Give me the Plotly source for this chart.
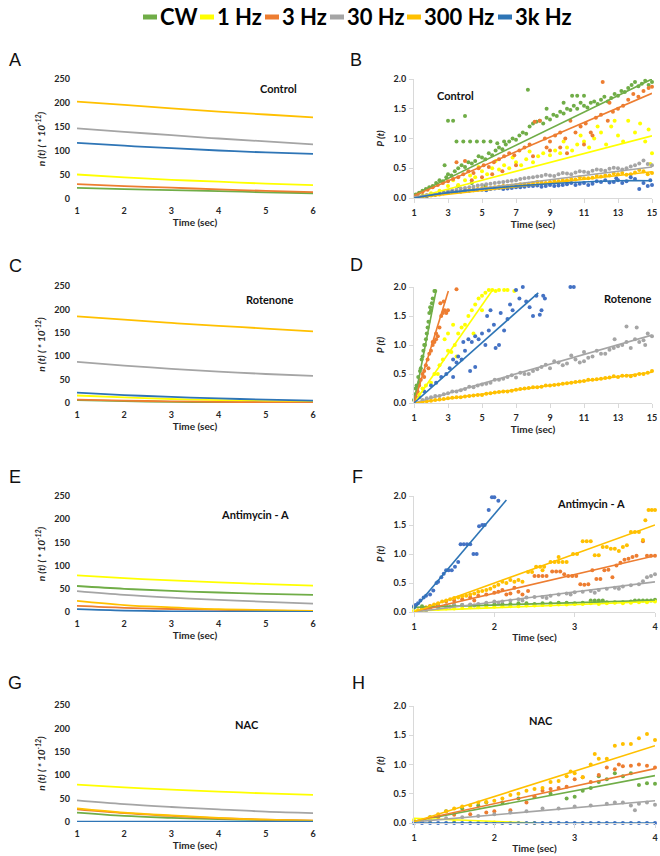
import plotly.graph_objects as go

W, H = 660, 856

# ---------------- series / colours ----------------
SERIES = ["CW", "1 Hz", "3 Hz", "30 Hz", "300 Hz", "3k Hz"]
COLORS = ["#70AD47", "#FFFF00", "#ED7D31", "#A5A5A5", "#FFC000", "#4472C4"]
LINE_COLORS = ["#70AD47", "#FFFF00", "#ED7D31", "#A5A5A5", "#FFC000", "#2E75B6"]

# ---------------- n(t) panels (A, C, E, G) ----------------
T = [1, 2, 3, 4, 5, 6]
# order: CW, 1 Hz, 3 Hz, 30 Hz, 300 Hz, 3k Hz
A_N = [
    [23, 20.5, 18.5, 16.5, 14, 12],
    [51, 45, 40, 36, 32, 29],
    [31, 27, 23.5, 20, 17, 14.5],
    [147, 140, 133, 126, 120, 114],
    [203, 196, 189, 182, 176, 170],
    [117, 111, 106, 101, 97, 94],
]
C_N = [
    [6, 4, 2.5, 1.5, 1, 0.5],
    [16, 12, 8.5, 6, 4, 2.5],
    [7, 5, 3.5, 2.5, 1.5, 1],
    [88, 80, 73, 67, 62, 58],
    [185, 178, 171, 165, 159, 153],
    [22, 17, 13, 10, 7, 5],
]
E_N = [
    [56, 50, 45.5, 42, 39, 37],
    [79, 73, 68, 64, 60, 57],
    [13, 9, 6.5, 4.5, 3, 2],
    [45, 37, 31, 26, 22, 18],
    [24, 15, 10, 6, 4, 2.5],
    [6, 3, 1.5, 1, 0.5, 0.3],
]
G_N = [
    [20, 13, 9, 6, 4, 2.5],
    [80, 74, 69, 65, 61, 58],
    [27, 19, 13, 8, 5, 3],
    [46, 38, 32, 27, 22, 19],
    [29, 20, 14, 9, 5, 3],
    [0.5, 0.5, 0.5, 0.5, 0.5, 0.5],
]

# ---------------- P(t) panel B (Control) ----------------
B_CW = [(1.1,0.06),(1.3,0.09),(1.5,0.12),(1.7,0.15),(1.9,0.18),(2.1,0.2),(2.3,0.25),(2.5,0.3),(2.7,0.28),(2.9,0.35),
        (3.0,0.4),(3.2,0.38),(3.4,0.45),(3.6,0.5),(3.8,0.55),(4.0,0.52),(4.2,0.6),(4.4,0.58),(4.6,0.62),(4.8,0.7),
        (5.0,0.68),(5.2,0.65),(5.4,0.75),(5.6,0.72),(5.8,0.8),(6.0,0.85),(6.2,0.82),(6.4,0.9),(6.6,0.95),(6.8,1.0),
        (7.0,0.98),(7.2,1.05),(7.4,1.1),(7.6,1.08),(7.8,1.2),(8.0,1.25),(8.2,1.28),(8.4,1.3),(8.6,1.25),(8.8,1.35),
        (9.0,1.32),(9.2,1.4),(9.4,1.38),(9.6,1.45),(9.8,1.42),(10.0,1.5),(10.2,1.48),(10.4,1.55),(10.6,1.5),(10.8,1.6),
        (11.0,1.55),(11.2,1.52),(11.4,1.6),(11.6,1.62),(11.8,1.58),(12.0,1.65),(12.2,1.7),(12.4,1.62),(12.6,1.68),(12.8,1.75),
        (13.0,1.72),(13.2,1.8),(13.4,1.78),(13.6,1.85),(13.8,1.9),(14.0,1.95),(14.2,1.88),(14.4,1.92),(14.6,1.97),(14.8,1.9),(15.0,1.95),
        (3.0,1.3),(3.3,1.3),(4.0,1.38),(7.7,1.82),(3.5,0.95),(3.9,0.95),(4.3,0.95),(4.7,0.95),(5.1,0.95),(5.5,0.95),
        (5.9,0.92),(6.3,0.95),(2.8,0.55),(3.6,0.2),(4.4,0.25),(5.2,0.2),(10.3,1.72),(10.6,1.72),(11.0,1.72),(9.8,1.6),(8.8,1.5)]
B_1HZ = [(1.5,0.04),(2.0,0.08),(2.5,0.12),(3.0,0.2),(3.3,0.3),(3.6,0.22),(4.0,0.3),(4.3,0.38),(4.6,0.35),(5.0,0.45),
         (5.3,0.4),(5.6,0.5),(6.0,0.48),(6.3,0.55),(6.6,0.5),(7.0,0.6),(7.3,0.55),(7.6,0.65),(8.0,0.6),(8.3,0.7),
         (8.6,0.75),(9.0,0.72),(9.3,0.8),(9.6,0.75),(10.0,0.85),(10.3,0.8),(10.6,0.9),(11.0,0.95),(11.3,0.85),(11.6,1.0),
         (12.0,1.1),(12.3,0.9),(12.6,1.2),(13.0,1.05),(13.3,0.95),(13.6,1.3),(14.0,1.1),(14.3,1.25),(14.6,0.95),(14.8,1.15),
         (15.0,0.75),(14.9,0.57),(12.8,1.3),(11.8,1.2),(10.8,1.05),(9.8,0.95),(7.8,0.78),(6.8,0.68),(5.8,0.62),(4.8,0.52)]
B_3HZ = [(1.2,0.06),(1.5,0.1),(1.8,0.14),(2.1,0.18),(2.4,0.22),(2.7,0.25),(3.0,0.28),(3.3,0.32),(3.6,0.35),(3.9,0.4),
         (4.2,0.45),(4.5,0.42),(4.8,0.5),(5.1,0.55),(5.4,0.52),(5.7,0.6),(6.0,0.65),(6.3,0.7),(6.6,0.75),(6.9,0.72),
         (7.2,0.8),(7.5,0.85),(7.8,0.9),(8.1,1.28),(8.4,1.3),(8.7,1.0),(9.0,0.95),(9.3,1.05),(9.6,1.1),(9.9,1.0),
         (10.2,1.3),(10.5,1.1),(10.8,1.2),(11.1,1.25),(11.4,1.1),(11.7,1.35),(12.0,1.4),(12.1,1.95),(12.4,1.3),(12.7,1.45),
         (13.0,1.5),(13.3,1.55),(13.6,1.65),(13.9,1.75),(14.2,1.7),(14.5,1.8),(14.8,1.85),(15.0,1.87),
         (4.4,0.3),(5.0,0.35),(5.6,0.4),(6.2,0.45),(7.0,0.55),(8.0,0.7),(9.0,0.8),(9.6,0.85),(10.0,0.75),(11.0,0.9),
         (11.5,1.05),(3.5,0.6),(4.0,0.62),(8.8,0.85),(12.5,1.6)]
B_30HZ = [(1.5,0.03),(2.0,0.06),(2.5,0.08),(3.0,0.12),(3.5,0.14),(4.0,0.17),(4.5,0.19),(5.0,0.22),(5.5,0.24),(6.0,0.26),
          (6.5,0.28),(7.0,0.3),(7.5,0.33),(8.0,0.35),(8.5,0.37),(9.0,0.38),(9.5,0.4),(10.0,0.41),(10.5,0.43),(11.0,0.44),
          (11.5,0.46),(12.0,0.47),(12.5,0.49),(13.0,0.5),(13.5,0.5),(14.0,0.55),(14.5,0.63),(15.0,0.55),
          (1.75,0.05),(2.25,0.07),(2.75,0.1),(3.25,0.13),(3.75,0.16),(4.25,0.18),(4.75,0.21),(5.25,0.23),(5.75,0.25),(6.25,0.27),
          (6.75,0.29),(7.25,0.32),(7.75,0.34),(8.25,0.36),(8.75,0.39),(9.25,0.37),(9.75,0.42),(10.25,0.4),(10.75,0.45),(11.25,0.43),
          (11.75,0.48),(12.25,0.46),(12.75,0.51),(13.25,0.48),(13.75,0.53),(14.25,0.58),(14.75,0.57)]
B_300HZ = [(1.5,0.02),(2.0,0.04),(2.5,0.06),(3.0,0.09),(3.5,0.1),(4.0,0.12),(4.5,0.14),(5.0,0.16),(5.5,0.17),(6.0,0.19),
           (6.5,0.2),(7.0,0.22),(7.5,0.23),(8.0,0.25),(8.5,0.26),(9.0,0.27),(9.5,0.28),(10.0,0.3),(10.5,0.31),(11.0,0.33),
           (11.5,0.34),(12.0,0.36),(12.5,0.38),(13.0,0.4),(13.5,0.39),(14.0,0.43),(14.5,0.45),(15.0,0.42),
           (1.75,0.03),(2.25,0.05),(2.75,0.08),(3.25,0.1),(3.75,0.11),(4.25,0.13),(4.75,0.15),(5.25,0.17),(5.75,0.18),(6.25,0.2),
           (6.75,0.21),(7.25,0.23),(7.75,0.24),(8.25,0.27),(8.75,0.25),(9.25,0.29),(9.75,0.3),(10.25,0.32),(10.75,0.35),(11.25,0.33),
           (11.75,0.37),(12.25,0.38),(12.75,0.41),(13.25,0.42),(13.75,0.4),(14.25,0.47),(14.75,0.4)]
B_3KHZ = [(1.5,0.02),(2.0,0.05),(2.5,0.07),(3.0,0.09),(3.5,0.1),(4.0,0.12),(4.5,0.13),(5.0,0.14),(5.5,0.15),(6.0,0.17),
          (6.5,0.16),(7.0,0.18),(7.5,0.19),(8.0,0.2),(8.5,0.19),(9.0,0.22),(9.5,0.21),(10.0,0.23),(10.5,0.22),(11.0,0.25),
          (11.5,0.24),(12.0,0.27),(12.5,0.26),(13.0,0.3),(13.5,0.28),(14.0,0.32),(14.5,0.25),(15.0,0.22),
          (1.75,0.03),(2.25,0.06),(2.75,0.08),(3.25,0.1),(3.75,0.11),(4.25,0.12),(4.75,0.14),(5.25,0.13),(5.75,0.16),(6.25,0.15),
          (6.75,0.17),(7.25,0.18),(7.75,0.2),(8.25,0.21),(8.75,0.2),(9.25,0.2),(9.75,0.22),(10.25,0.25),(10.75,0.24),(11.25,0.22),
          (11.75,0.28),(12.25,0.3),(12.75,0.27),(13.25,0.25),(13.75,0.35),(14.25,0.15),(14.75,0.2),(14.9,0.3),(12.9,0.33)]
B_FIT = [
    [(1, 0.05), (15, 2.0)],
    [(1, 0.0), (15, 1.045)],
    [(1, 0.04), (15, 1.76)],
    [(1, 0.02), (15, 0.52)],
    [(1, 0.0), (15, 0.44)],
    [(1, 0.0), (3, 0.09), (5, 0.15), (7, 0.2), (9, 0.24), (11, 0.27), (13, 0.29), (15, 0.29)],
]

# ---------------- P(t) panel D (Rotenone) ----------------
D_CW = [(1.0,0.05),(1.05,0.15),(1.1,0.25),(1.15,0.3),(1.2,0.2),(1.25,0.45),(1.3,0.35),(1.35,0.55),(1.4,0.6),(1.45,0.75),
        (1.5,0.8),(1.55,0.9),(1.6,1.0),(1.65,1.0),(1.7,1.1),(1.75,1.2),(1.8,1.3),(1.85,1.4),(1.9,1.55),(1.95,1.65),
        (2.0,1.6),(2.05,1.72),(2.1,1.8),(2.2,1.93),(2.25,1.93)]
D_1HZ = [(1.3,0.15),(1.5,0.25),(1.7,0.3),(2.0,0.35),(2.2,0.5),(2.4,0.5),(2.5,0.65),(2.7,0.75),(2.8,1.1),(3.0,0.9),
         (3.0,1.2),(3.2,0.88),(3.3,1.35),(3.4,1.0),(3.5,0.8),(3.6,1.2),(3.8,1.3),(4.0,1.35),(4.2,1.5),(4.4,1.6),
         (4.5,1.2),(4.6,1.7),(4.8,1.8),(5.0,1.85),(5.0,1.6),(5.2,1.9),(5.4,1.95),(5.6,1.95),(5.8,1.93),(6.0,1.95),
         (6.3,1.95),(6.5,1.95),(6.9,1.93)]
D_3HZ = [(1.1,0.1),(1.2,0.2),(1.3,0.3),(1.4,0.4),(1.5,0.5),(1.6,0.55),(1.6,0.45),(1.7,0.65),(1.8,0.75),(1.85,0.6),
         (1.9,0.85),(2.0,0.9),(2.1,1.0),(2.1,1.05),(2.2,1.05),(2.3,1.2),(2.3,1.1),(2.4,1.15),(2.5,1.3),(2.55,1.72),
         (2.6,1.5),(2.7,1.55),(2.75,1.75),(2.8,1.6),(2.9,1.55),(3.0,1.6),(3.5,1.96)]
D_30HZ = [(1.5,0.05),(2.0,0.1),(2.5,0.12),(3.0,0.17),(3.5,0.2),(4.0,0.24),(4.5,0.27),(5.0,0.32),(5.5,0.35),(6.0,0.4),
          (6.5,0.45),(7.0,0.44),(7.5,0.5),(8.0,0.55),(8.5,0.62),(9.0,0.6),(9.5,0.7),(10.0,0.68),(10.5,0.75),(11.0,0.72),
          (11.5,0.8),(12.0,0.85),(12.5,0.92),(13.0,0.98),(13.5,1.05),(14.0,1.1),(14.5,1.08),(15.0,1.15),
          (1.75,0.08),(2.25,0.12),(2.75,0.15),(3.25,0.2),(3.75,0.22),(4.25,0.28),(4.75,0.3),(5.25,0.33),(5.75,0.4),(6.25,0.42),
          (6.75,0.48),(7.25,0.52),(7.75,0.5),(8.25,0.58),(8.75,0.66),(9.25,0.72),(9.75,0.65),(10.25,0.82),(10.75,0.7),(11.25,0.78),
          (11.75,0.9),(12.25,0.85),(12.75,0.95),(13.25,1.0),(13.75,0.95),(14.25,1.05),(14.75,1.2),(13.5,1.32),(14.1,1.3),(14.6,1.0),
          (12.8,1.1),(11.0,0.88)]
D_300HZ = [(1.5,0.02),(2.0,0.04),(2.5,0.06),(3.0,0.08),(3.5,0.1),(4.0,0.11),(4.5,0.13),(5.0,0.14),(5.5,0.17),(6.0,0.19),
           (6.5,0.2),(7.0,0.23),(7.5,0.25),(8.0,0.27),(8.5,0.28),(9.0,0.3),(9.5,0.32),(10.0,0.34),(10.5,0.36),(11.0,0.38),
           (11.5,0.4),(12.0,0.42),(12.5,0.44),(13.0,0.45),(13.5,0.47),(14.0,0.48),(14.5,0.5),(15.0,0.55),
           (1.75,0.03),(2.25,0.05),(2.75,0.07),(3.25,0.09),(3.75,0.1),(4.25,0.12),(4.75,0.14),(5.25,0.16),(5.75,0.18),(6.25,0.2),
           (6.75,0.21),(7.25,0.24),(7.75,0.26),(8.25,0.27),(8.75,0.3),(9.25,0.31),(9.75,0.33),(10.25,0.35),(10.75,0.37),(11.25,0.4),
           (11.75,0.41),(12.25,0.43),(12.75,0.46),(13.25,0.47),(13.75,0.46),(14.25,0.5),(14.75,0.52)]
D_3KHZ = [(1.3,0.1),(1.6,0.2),(2.0,0.3),(2.3,0.35),(2.6,0.45),(2.9,0.5),(3.1,0.6),(3.3,0.75),(3.5,0.7),(3.6,0.8),
          (3.8,0.75),(4.0,0.9),(4.2,1.1),(4.4,1.05),(4.6,1.15),(4.8,1.1),(5.0,1.2),(5.2,1.0),(5.4,1.25),(5.5,1.6),
          (5.7,1.35),(5.8,0.95),(6.0,1.0),(6.1,1.55),(6.3,1.25),(6.5,1.45),(6.65,1.7),(6.8,1.6),(7.0,1.95),(7.2,1.8),
          (7.4,2.0),(7.6,1.75),(7.8,1.65),(8.0,1.5),(8.2,1.85),(8.4,1.52),(8.6,1.85),(8.7,1.8),(8.5,1.6),(10.2,2.0),
          (10.4,2.0),(4.3,0.55),(3.3,0.45),(4.6,0.62),(3.9,1.05),(5.3,1.5)]
D_FIT = [
    [(1, 0.0), (2.3, 1.94)],
    [(1, 0.0), (5.67, 1.97)],
    [(1, 0.0), (3.02, 1.93)],
    [(1, 0.0), (15, 1.17)],
    [(1, 0.0), (15, 0.53)],
    [(1, 0.0), (8.31, 1.9)],
]

# ---------------- P(t) panel F (Antimycin - A) ----------------
F_CW = [(1.0,0.08),(1.1,0.1),(1.2,0.1),(1.3,0.11),(1.4,0.11),(1.5,0.12),(1.6,0.12),(1.7,0.12),(1.8,0.12),(1.9,0.13),
        (2.0,0.13),(2.1,0.14),(2.2,0.14),(2.3,0.15),(2.4,0.15),(2.5,0.14),(2.6,0.15),(2.7,0.15),(2.8,0.16),(2.9,0.16),
        (3.0,0.15),(3.1,0.16),(3.2,0.2),(3.25,0.2),(3.3,0.2),(3.35,0.2),(3.4,0.17),(3.5,0.17),(3.6,0.17),(3.7,0.18),
        (3.75,0.2),(3.8,0.2),(3.85,0.2),(3.9,0.2),(3.95,0.2),(4.0,0.21)]
F_1HZ = [(1.0,0.02),(1.1,0.03),(1.2,0.05),(1.3,0.05),(1.4,0.06),(1.5,0.06),(1.6,0.07),(1.7,0.08),(1.8,0.08),(1.9,0.09),
         (2.0,0.09),(2.1,0.1),(2.2,0.1),(2.3,0.1),(2.4,0.11),(2.5,0.11),(2.6,0.12),(2.7,0.12),(2.8,0.13),(2.9,0.13),
         (3.0,0.14),(3.1,0.14),(3.2,0.15),(3.3,0.14),(3.4,0.15),(3.5,0.16),(3.6,0.15),(3.7,0.16),(3.8,0.17),(3.9,0.17),(4.0,0.18)]
F_3HZ = [(1.1,0.05),(1.2,0.1),(1.3,0.14),(1.4,0.18),(1.5,0.2),(1.6,0.22),(1.7,0.25),(1.75,0.2),(1.8,0.28),(1.9,0.3),
         (2.0,0.33),(2.05,0.35),(2.1,0.38),(2.15,0.3),(2.2,0.32),(2.25,0.42),(2.3,0.35),(2.35,0.3),(2.42,0.36),(2.5,0.62),
         (2.55,0.62),(2.6,0.62),(2.65,0.62),(2.72,0.7),(2.77,0.7),(2.82,0.7),(2.87,0.65),(2.92,0.62),(2.97,0.62),(3.02,0.62),
         (3.07,0.48),(3.12,0.47),(3.17,0.48),(3.22,0.72),(3.27,0.57),(3.32,0.57),(3.37,0.72),(3.42,0.73),(3.47,0.6),(3.52,0.8),
         (3.57,0.85),(3.62,0.9),(3.67,0.92),(3.72,0.95),(3.77,0.97),(3.85,1.22),(3.9,0.97),(3.95,0.97),(4.0,0.97)]
F_30HZ = [(1.1,0.04),(1.15,0.02),(1.2,0.06),(1.3,0.08),(1.4,0.1),(1.45,0.09),(1.5,0.12),(1.6,0.12),(1.7,0.13),(1.75,0.11),
          (1.8,0.14),(1.9,0.16),(2.0,0.18),(2.05,0.16),(2.1,0.18),(2.2,0.2),(2.3,0.22),(2.35,0.2),(2.4,0.25),(2.5,0.26),
          (2.6,0.26),(2.65,0.24),(2.7,0.28),(2.8,0.3),(2.9,0.32),(2.95,0.3),(3.0,0.34),(3.1,0.35),(3.2,0.36),(3.25,0.33),
          (3.3,0.38),(3.4,0.4),(3.5,0.42),(3.55,0.4),(3.6,0.44),(3.7,0.46),(3.8,0.48),(3.85,0.53),(3.9,0.6),(3.95,0.62),(4.0,0.65)]
F_300HZ = [(1.05,0.03),(1.1,0.06),(1.15,0.08),(1.2,0.1),(1.25,0.13),(1.3,0.15),(1.35,0.18),(1.4,0.2),(1.45,0.22),(1.5,0.24),
           (1.55,0.25),(1.6,0.27),(1.65,0.28),(1.7,0.3),(1.75,0.32),(1.8,0.35),(1.85,0.36),(1.9,0.38),(1.95,0.4),(2.0,0.44),
           (2.05,0.47),(2.1,0.52),(2.15,0.5),(2.2,0.55),(2.25,0.52),(2.3,0.55),(2.35,0.52),(2.42,0.69),(2.47,0.69),(2.52,0.78),
           (2.57,0.78),(2.6,0.72),(2.62,0.78),(2.7,0.86),(2.75,0.86),(2.8,0.86),(2.8,0.95),(2.85,0.86),(2.9,0.86),(2.98,1.0),
           (3.03,1.0),(3.1,1.22),(3.15,1.22),(3.2,1.22),(3.25,0.98),(3.3,0.98),(3.35,1.12),(3.4,1.12),(3.45,1.09),(3.5,1.09),
           (3.55,1.05),(3.6,1.12),(3.65,1.15),(3.7,1.38),(3.75,1.38),(3.8,1.38),(3.85,1.24),(3.88,1.58),(3.92,1.76),(3.96,1.76),(4.0,1.76)]
F_3KHZ = [(1.0,0.1),(1.02,0.12),(1.05,0.15),(1.08,0.2),(1.12,0.25),(1.15,0.28),(1.2,0.3),(1.24,0.37),(1.28,0.5),(1.3,0.52),
          (1.34,0.6),(1.37,0.66),(1.4,0.72),(1.43,0.72),(1.47,0.72),(1.51,0.78),(1.55,0.86),(1.58,1.17),(1.62,1.17),(1.66,1.17),
          (1.7,1.17),(1.74,1.0),(1.78,1.0),(1.81,1.48),(1.85,1.5),(1.88,1.5),(1.93,1.76),(1.97,1.98),(2.0,1.98),(2.05,1.92)]
F_FIT = [
    [(1, 0.08), (4, 0.2)],
    [(1, 0.02), (4, 0.18)],
    [(1, 0.0), (4, 0.97)],
    [(1, 0.0), (4, 0.52)],
    [(1, 0.0), (4, 1.5)],
    [(1, 0.05), (2.15, 1.93)],
]

# ---------------- P(t) panel H (NAC) ----------------
H_CW = [(1.2,0.1),(1.4,0.2),(1.6,0.25),(1.8,0.3),(1.9,0.35),(2.1,0.35),(2.3,0.42),(2.5,0.45),(2.7,0.5),(2.9,0.42),
        (3.0,0.45),(3.1,0.55),(3.2,0.6),(3.3,0.7),(3.3,0.8),(3.4,0.75),(3.5,0.85),(3.6,0.8),(3.7,0.85),(3.8,0.65),
        (3.9,0.68),(4.0,0.67)]
H_1HZ = [(1.0,0.05),(1.2,0.04),(1.5,0.02),(2.0,0.01),(2.5,0.0)]
H_3HZ = [(1.1,0.04),(1.3,0.1),(1.5,0.14),(1.7,0.15),(1.9,0.18),(2.0,0.2),(2.2,0.22),(2.4,0.35),(2.5,0.45),(2.6,0.55),
         (2.7,0.58),(2.8,0.6),(2.9,0.62),(3.0,0.75),(3.1,0.78),(3.2,0.7),(3.3,0.82),(3.4,0.95),(3.5,0.92),(3.55,1.0),
         (3.6,0.97),(3.7,0.98),(3.8,1.0),(3.9,0.98),(4.0,0.95)]
H_30HZ = [(1.2,0.05),(1.4,0.08),(1.6,0.1),(1.8,0.12),(2.0,0.15),(2.2,0.18),(2.4,0.2),(2.6,0.25),(2.8,0.25),(3.0,0.28),
          (3.2,0.3),(3.4,0.33),(3.5,0.35),(3.6,0.35),(3.7,0.3),(3.75,0.22),(3.8,0.33),(3.9,0.35),(4.0,0.31)]
H_300HZ = [(1.1,0.05),(1.2,0.1),(1.3,0.15),(1.4,0.2),(1.5,0.25),(1.6,0.28),(1.7,0.3),(1.8,0.35),(1.9,0.36),(2.0,0.38),
           (2.1,0.42),(2.2,0.48),(2.3,0.5),(2.4,0.55),(2.5,0.58),(2.6,0.6),(2.7,0.7),(2.8,0.72),(2.9,0.8),(2.95,0.88),
           (3.0,0.85),(3.1,0.78),(3.2,1.0),(3.25,1.18),(3.3,1.1),(3.4,1.1),(3.5,1.32),(3.6,1.35),(3.7,1.35),(3.8,1.45),
           (3.9,1.52),(4.0,1.42)]
H_3KHZ = [(1.0,0.0),(1.1,0.0),(1.2,0.0),(1.3,0.0),(1.4,0.0),(1.5,0.0),(1.6,0.0),(1.7,0.0),(1.8,0.0),(1.9,0.0),
          (2.0,0.0),(2.1,0.0),(2.2,0.0),(2.3,0.0),(2.4,0.0),(2.5,0.0),(2.6,0.0),(2.7,0.0),(2.8,0.0),(2.9,0.0),
          (3.0,0.0),(3.1,0.0),(3.2,0.0),(3.3,0.0),(3.4,0.0),(3.5,0.0),(3.6,0.0),(3.7,0.0),(3.8,0.0),(3.9,0.0),(4.0,0.0)]
H_FIT = [
    [(1, 0.03), (4, 0.81)],
    [(1, 0.08), (2.5, 0.0)],
    [(1, 0.03), (4, 0.93)],
    [(1, 0.02), (4, 0.38)],
    [(1, 0.02), (4, 1.32)],
    [(1, 0.0), (4, 0.0)],
]

CONDITIONS = ["Control", "Rotenone", "Antimycin - A", "NAC"]
N_TICKS = [0, 50, 100, 150, 200, 250]
P_TICKS = [0.0, 0.5, 1.0, 1.5, 2.0]

# ---------------- layout helpers ----------------
FONT = "Lato, 'Open Sans', sans-serif"
TXT = "#262626"


def dx(p):
    return p / W


def dy(p):
    return 1 - p / H


fig = go.Figure()

# panel: (letter, axis index, x px domain, y px domain, kind, xrange, dtick)
PANELS = [
    ("A", 1, (77, 313), (79, 199), "n", [1, 6], 1),
    ("B", 2, (414, 652), (79, 198), "p", [1, 15], 2),
    ("C", 3, (77, 313), (286, 403), "n", [1, 6], 1),
    ("D", 4, (414, 652), (287, 403), "p", [1, 15], 2),
    ("E", 5, (77, 313), (496, 612), "n", [1, 6], 1),
    ("F", 6, (414, 655), (496, 612), "p", [1, 4], 1),
    ("G", 7, (77, 313), (705, 822), "n", [1, 6], 1),
    ("H", 8, (414, 655), (706, 823), "p", [1, 4], 1),
]

N_DATA = {"A": A_N, "C": C_N, "E": E_N, "G": G_N}
P_DATA = {
    "B": ([B_CW, B_1HZ, B_3HZ, B_30HZ, B_300HZ, B_3KHZ], B_FIT),
    "D": ([D_CW, D_1HZ, D_3HZ, D_30HZ, D_300HZ, D_3KHZ], D_FIT),
    "F": ([F_CW, F_1HZ, F_3HZ, F_30HZ, F_300HZ, F_3KHZ], F_FIT),
    "H": ([H_CW, H_1HZ, H_3HZ, H_30HZ, H_300HZ, H_3KHZ], H_FIT),
}

tickfont = dict(family=FONT, size=9, color=TXT, weight="bold")
titlefont = dict(family=FONT, size=10, color=TXT, weight="bold")
ytitlefont = dict(family=FONT, size=10, color=TXT, weight="bold", style="italic")

for letter, k, xpx, ypx, kind, xr, xdt in PANELS:
    xa = "x" if k == 1 else f"x{k}"
    ya = "y" if k == 1 else f"y{k}"
    if kind == "n":
        for i, vals in enumerate(N_DATA[letter]):
            fig.add_trace(go.Scatter(x=T, y=vals, xaxis=xa, yaxis=ya, mode="lines",
                                     line=dict(color=LINE_COLORS[i], width=1.8, shape="spline"),
                                     name=SERIES[i], showlegend=False, hoverinfo="skip"))
    else:
        pts, fits = P_DATA[letter]
        for i, p in enumerate(pts):
            xs, ys = zip(*p)
            fig.add_trace(go.Scatter(x=list(xs), y=list(ys), xaxis=xa, yaxis=ya, mode="markers",
                                     marker=dict(color=COLORS[i], size=4),
                                     cliponaxis=False, name=SERIES[i], showlegend=False))
        for i, f in enumerate(fits):
            xs, ys = zip(*f)
            fig.add_trace(go.Scatter(x=list(xs), y=list(ys), xaxis=xa, yaxis=ya, mode="lines",
                                     line=dict(color=LINE_COLORS[i], width=1.6,
                                               shape="spline" if len(xs) > 2 else "linear"),
                                     name=SERIES[i] + " fit", showlegend=False, hoverinfo="skip"))

    xkey = "xaxis" if k == 1 else f"xaxis{k}"
    ykey = "yaxis" if k == 1 else f"yaxis{k}"
    is_p = kind == "p"
    fig.layout[xkey] = dict(
        domain=[dx(xpx[0]), dx(xpx[1])], anchor=ya, range=xr, dtick=xdt, tick0=1,
        showgrid=False, zeroline=False, automargin=False,
        showline=is_p, linecolor="#D9D9D9", linewidth=1,
        ticks="outside" if is_p else "", ticklen=4, tickcolor="#D9D9D9",
        ticklabelstandoff=2 if is_p else 5, ticklabeloverflow="allow",
        tickfont=tickfont,
        title=dict(text="Time (sec)", font=titlefont, standoff=3),
    )
    if is_p:
        fig.layout[ykey] = dict(
            domain=[dy(ypx[1]), dy(ypx[0])], anchor=xa, range=[0, 2],
            tickvals=P_TICKS, tickformat=".1f",
            showgrid=False, zeroline=False, automargin=False,
            showline=True, linecolor="#D9D9D9", linewidth=1,
            ticks="outside", ticklen=4, tickcolor="#D9D9D9", ticklabelstandoff=1,
            tickfont=tickfont,
            title=dict(text="P (t)", font=ytitlefont, standoff=7),
        )
    else:
        fig.layout[ykey] = dict(
            domain=[dy(ypx[1]), dy(ypx[0])], anchor=xa, range=[0, 250],
            tickvals=N_TICKS,
            showgrid=False, zeroline=False, automargin=False, showline=False,
            ticks="", ticklabelstandoff=6,
            tickfont=tickfont,
            title=dict(text="n (t) ( * 10<sup>-12</sup>)", font=ytitlefont, standoff=6),
        )

annotations = []
# panel letters
LETTER_POS = {"A": (7, 60), "B": (348, 60), "C": (7, 266), "D": (348, 265),
              "E": (7, 477), "F": (350, 477), "G": (6, 683), "H": (350, 683)}
for letter, (px, py) in LETTER_POS.items():
    annotations.append(dict(text=letter, x=dx(px), y=dy(py), xref="paper", yref="paper",
                            xanchor="left", yanchor="middle", showarrow=False,
                            font=dict(family="Liberation Sans, Arial, sans-serif", size=18, color="#111")))

# condition labels
COND_POS = [((278, 89), (455, 95)), ((270, 299), (628, 298)),
            ((255, 514), (591, 503)), ((247, 724), (541, 720))]
for name, (pa, pb) in zip(CONDITIONS, COND_POS):
    for (px, py) in (pa, pb):
        annotations.append(dict(text=name, x=dx(px), y=dy(py), xref="paper", yref="paper",
                                xanchor="center", yanchor="middle", showarrow=False,
                                font=dict(family=FONT, size=11, color="#111", weight="bold")))

# custom legend across the top
LEG_X = [143, 200, 265, 330, 407, 498]
shapes = []
for i, name in enumerate(SERIES):
    x0 = LEG_X[i]
    shapes.append(dict(type="line", xref="paper", yref="paper",
                       x0=dx(x0), x1=dx(x0 + 14), y0=dy(17), y1=dy(17),
                       line=dict(color=LINE_COLORS[i], width=5)))
    annotations.append(dict(text=name, x=dx(x0 + 15), y=dy(16), xref="paper", yref="paper",
                            xanchor="left", yanchor="middle", showarrow=False,
                            font=dict(family=FONT, size=22, color="#000", weight="bold")))

fig.update_layout(
    width=W, height=H,
    margin=dict(l=0, r=0, t=0, b=0),
    paper_bgcolor="white", plot_bgcolor="white",
    showlegend=False,
    annotations=annotations, shapes=shapes,
    font=dict(family=FONT, color=TXT),
)

fig.write_html("out.html", config={"displayModeBar": False},
               post_script="document.body.style.margin='0';")
